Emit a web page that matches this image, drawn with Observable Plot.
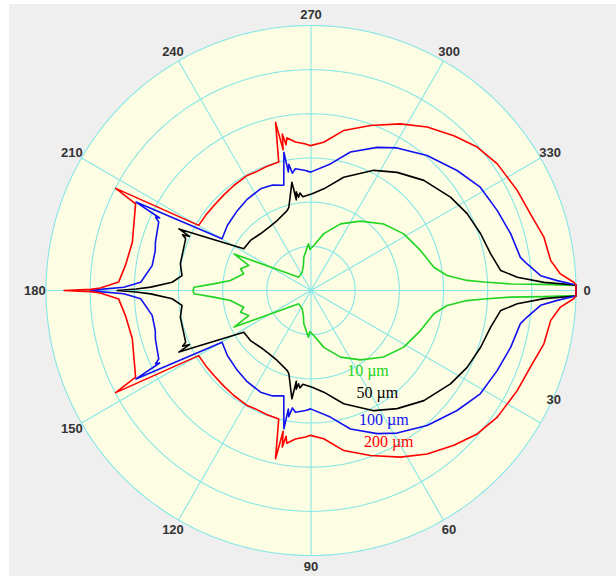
<!DOCTYPE html>
<html>
<head>
<meta charset="utf-8">
<script src="https://cdn.jsdelivr.net/npm/d3@7"></script>
<script src="https://cdn.jsdelivr.net/npm/@observablehq/plot@0.6"></script>
<style>
  html, body { margin: 0; padding: 0; background: #ffffff; }
  #wrap { position: relative; width: 616px; height: 576px; overflow: hidden; }
  #bg { position: absolute; left: 9px; top: 4px; right: 0; bottom: 0; background: #efefef; }
  #wrap svg { position: absolute; left: 0; top: 0; }
</style>
</head>
<body>
<div id="wrap"><div id="bg"></div></div>
<script>
// ---- data (upper half of each symmetric curve; angle in degrees, clockwise from 0 at right; radius in ring units, one ring = 10) ----
const seriesNames = ["10 µm", "50 µm", "100 µm", "200 µm"];
const seriesColors = ["#22d422", "#000000", "#1212f0", "#ff0000"];

const theta10 = [180, 181.6, 183.9, 187.1, 194, 197.1, 201.9, 205.4, 227.5, 244.3, 253, 257.8, 265, 266.9, 268.5, 273.6, 282.7, 293.9, 305.5, 317.5, 328.6, 339.9, 349.3, 353.7, 356.3, 357.2, 358.1, 358.5, 358.9];
const r10     = [26.7, 26.5, 22.1, 18.4, 15.7, 16.7, 15.2, 19.3, 4.1, 4.6, 5.9, 7.7, 9.8, 10.6, 9.3, 10.2, 13.2, 16.5, 19.3, 22.3, 24.6, 26.4, 28.3, 31.0, 35.4, 39.2, 45.2, 52.8, 60];

const theta50 = [180, 180.5, 181.2, 183.4, 186.6, 191.6, 202.4, 203.5, 204, 205, 211.8, 219.6, 228.3, 236.3, 244.2, 250.5, 253.4, 255.1, 260, 260.8, 261.5, 262.4, 263.5, 265, 270.7, 277.2, 286.1, 297.6, 306.1, 315.7, 326.2, 333.8, 341.5, 348.4, 354, 356.3, 358, 358.8];
const r50     = [43.9, 39.6, 36.3, 31.5, 29.4, 30.2, 30.7, 31.7, 30.1, 33.0, 17.9, 17.8, 17.2, 17.2, 17.6, 18.4, 18.9, 19.5, 24.9, 20.8, 22.6, 21.3, 22.2, 21.3, 21.9, 23.2, 26.7, 30.7, 33.1, 35.7, 38.0, 39.4, 40.5, 41.5, 43.2, 46.8, 52.8, 60];

const theta100 = [180, 180.3, 181, 182.8, 188.9, 194.4, 197.3, 204.2, 205.2, 205.6, 206.8, 210.2, 218, 227.3, 235, 243.6, 250, 255.5, 258.9, 259.2, 260, 261, 262.7, 267.4, 269.8, 278.7, 285.9, 294.8, 301.1, 310.7, 320.6, 328.6, 336.8, 344.1, 351, 353, 356.3, 357.7, 358.8];
const r100     = [49.9, 47.7, 42.4, 38.6, 36.4, 36.4, 36.9, 37.8, 38.9, 38.0, 44.4, 23.3, 24.0, 24.6, 25.2, 25.7, 25.4, 24.6, 31.9, 27.3, 29.0, 26.9, 27.8, 27.2, 26.8, 29.0, 32.6, 35.7, 37.7, 40.3, 42.8, 44.9, 45.9, 47.0, 48.0, 49.3, 52.1, 55.8, 60];

const theta200 = [180, 180.3, 180.7, 182.5, 187.7, 195.1, 206.3, 207.6, 210.1, 215.5, 221.2, 227.5, 233.7, 241, 244.9, 250, 255.9, 258.1, 258.8, 259.6, 260.3, 261, 264, 267.9, 269.8, 274.9, 281.6, 289.8, 298.2, 305.4, 312.7, 319.2, 325.8, 334.1, 340.7, 347.1, 352.9, 356.2, 358.2, 358.8];
const r200     = [55.9, 49.9, 47.7, 43.6, 42.4, 41.9, 44.3, 49.9, 29.4, 29.3, 29.2, 29.3, 29.5, 29.8, 29.6, 29.8, 30.0, 38.9, 32.5, 36.0, 33.5, 35.0, 33.8, 33.2, 32.8, 33.7, 37.0, 39.7, 42.8, 45.4, 47.7, 49.7, 51.0, 51.9, 52.6, 54.1, 54.7, 56.6, 59.5, 60];

const angleTicks = [0, 30, 60, 90, 120, 150, 180, 210, 240, 270, 300, 330];
const ringValues = [10, 20, 30, 40, 50, 60];
const rMax = 60;

// ---- layout (not data) ----
const tickLabelR = 62.5;
const tickLabelOverride = {30: {theta: 24.3, r: 60.3}};
const seriesLabelPos = [
  {x: 12.9, y: 18.3},
  {x: 15.0, y: 23.1},
  {x: 16.5, y: 29.2},
  {x: 17.6, y: 34.3}
];

// ---- build rows ----
const rad = t => t * Math.PI / 180;
const px = d => d.r * Math.cos(rad(d.theta));
const py = d => d.r * Math.sin(rad(d.theta));

const thetas = [theta10, theta50, theta100, theta200];
const radii = [r10, r50, r100, r200];
const curveRows = [];
seriesNames.forEach((name, i) => {
  const upper = thetas[i].map((t, j) => ({series: name, theta: t, r: radii[i][j]}));
  const lower = upper.slice().reverse().map(d => ({series: name, theta: 360 - d.theta, r: d.r}));
  curveRows.push(...upper, ...lower);
});

const circleAngles = d3.range(0, 361, 1);
const ringRows = ringValues.flatMap(k => circleAngles.map(t => ({ring: k, theta: t, r: k})));
const diskRows = circleAngles.map(t => ({theta: t, r: rMax}));

const tickRows = angleTicks.map(a => {
  const o = tickLabelOverride[a];
  return {label: String(a), theta: o ? o.theta : a, r: o ? o.r : tickLabelR};
});
const seriesLabelRows = seriesNames.map((name, i) => ({series: name, ...seriesLabelPos[i]}));

const chart = Plot.plot({
  width: 616,
  height: 576,
  margin: 0,
  x: {domain: [-rMax, rMax], range: [45.5, 575.5]},
  y: {domain: [-rMax, rMax], range: [25, 555]},
  color: {domain: seriesNames, range: seriesColors},
  axis: null,
  style: {background: "transparent", fontFamily: "'Liberation Sans', Arial, sans-serif", overflow: "visible"},
  marks: [
    Plot.line(diskRows, {x: px, y: py, fill: "#fdfde4", stroke: "none"}),
    Plot.line(ringRows, {x: px, y: py, z: "ring", stroke: "#86e6e6", strokeWidth: 1.1}),
    Plot.link(angleTicks, {x1: 0, y1: 0, x2: a => rMax * Math.cos(rad(a)), y2: a => rMax * Math.sin(rad(a)), stroke: "#86e6e6", strokeWidth: 1.1}),
    Plot.line(curveRows, {x: px, y: py, z: "series", stroke: "series", strokeWidth: 1.6, curve: "linear", strokeLinejoin: "round"}),
    Plot.text(tickRows, {x: px, y: py, text: "label", fontSize: 13, fontWeight: "bold", fill: "#333333"}),
    Plot.text(seriesLabelRows, {x: "x", y: "y", text: "series", fill: "series", fontSize: 16, fontFamily: "'Liberation Serif', 'Times New Roman', serif"})
  ]
});
document.getElementById("wrap").appendChild(chart);
</script>
</body>
</html>
